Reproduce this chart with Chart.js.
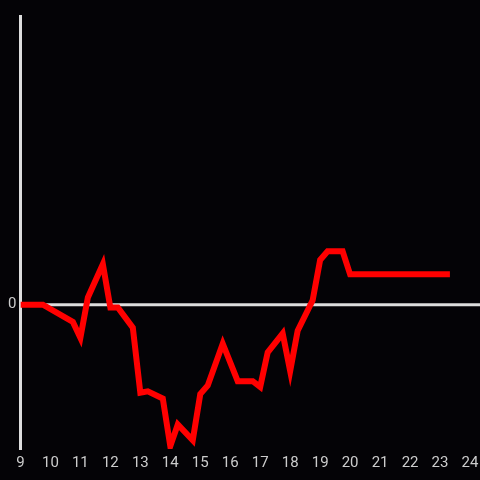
<!DOCTYPE html>
<html>
<head>
<meta charset="utf-8">
<script src="https://cdn.jsdelivr.net/npm/chart.js@4/dist/chart.umd.min.js"></script>
<style>
  html, body { margin: 0; padding: 0; background: #040306; }
  #wrap { width: 480px; height: 480px; }
</style>
</head>
<body>
<div id="wrap"><canvas id="canvas" width="480" height="480"></canvas></div>
<script>
// hours of day and values
var horas = [9, 9.75, 10.75, 11, 11.25, 11.75, 12, 12.25, 12.75, 13, 13.25, 13.75,
  14, 14.25, 14.75, 15, 15.25, 15.75, 16.25, 16.75, 17, 17.25, 17.75, 18, 18.25,
  18.75, 19, 19.25, 19.75, 20, 21, 22, 23.33];
var valores = [0, 0, -12, -23, 5, 28, -2, -2, -16, -61, -60, -65,
  -98, -83, -94, -62, -56, -27, -53, -53, -57, -33, -20, -46, -18,
  3, 31, 37, 37, 21, 21, 21, 21];
var ticksY = [0];

var pontos = [];
for (var i = 0; i < horas.length; i++) {
  pontos.push({x: horas[i], y: valores[i]});
}

// zero line across the whole width
var linhaZero = {
  id: 'linhaZero',
  beforeDatasetsDraw: function(chart) {
    var ctx = chart.ctx;
    var y = chart.scales.y.getPixelForValue(0);
    ctx.save();
    ctx.strokeStyle = '#dddddd';
    ctx.lineWidth = 3;
    ctx.beginPath();
    ctx.moveTo(chart.chartArea.left, y);
    ctx.lineTo(chart.width, y);
    ctx.stroke();
    ctx.restore();
  }
};

var ctx = document.getElementById('canvas');
window.grafico = new Chart(ctx, {
  type: 'line',
  data: {
    datasets: [{
      data: pontos,
      borderColor: '#ff0000',
      borderWidth: 6,
      pointRadius: 0,
      tension: 0,
      fill: false
    }]
  },
  options: {
    responsive: false,
    animation: false,
    layout: { padding: { top: 16, right: 10, bottom: 3, left: 4 } },
    plugins: { legend: { display: false }, tooltip: { enabled: false } },
    scales: {
      x: {
        type: 'linear',
        min: 9,
        max: 24,
        afterFit: function(s) { s.paddingRight = 0; },
        grid: { display: false, drawTicks: false },
        border: { display: false },
        ticks: {
          stepSize: 1,
          padding: 5,
          color: '#cccccc',
          font: { family: 'Roboto', size: 15 }
        }
      },
      y: {
        min: -100,
        max: 200,
        afterBuildTicks: function(axis) {
          axis.ticks = ticksY.map(function(v) { return {value: v}; });
        },
        grid: { display: false, drawTicks: false },
        border: { display: true, color: '#dddddd', width: 3 },
        ticks: {
          padding: 4,
          color: '#cccccc',
          font: { family: 'Roboto', size: 15 }
        }
      }
    }
  },
  plugins: [linhaZero]
});
</script>
</body>
</html>
